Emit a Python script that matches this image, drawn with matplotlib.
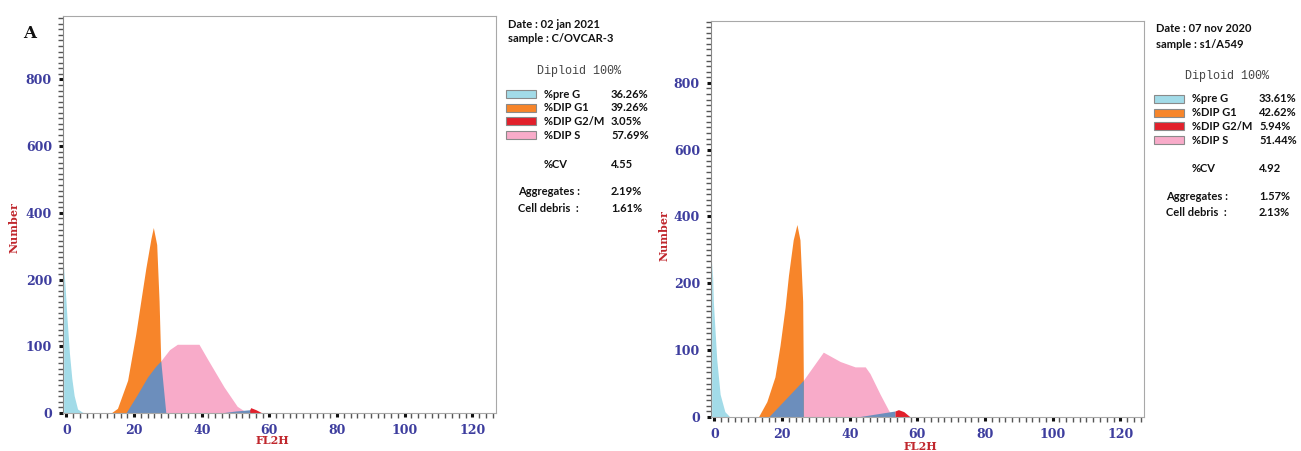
import numpy as np
import matplotlib
matplotlib.use('Agg')
from matplotlib import pyplot as plt
from matplotlib.patches import Rectangle
from matplotlib.ticker import FixedLocator

# ---- data ----
# panel A (left)
preg_x_a = [-0.8, -0.4, 0.2, 0.9, 1.6, 2.3, 3.3, 4.8, 6.3]
preg_y_a = [240, 191, 141, 90, 52, 26, 6, 1, 0]
g1_x_a = [13.2, 15.1, 18.1, 20.5, 22.0, 23.5, 25.0, 25.7, 26.7, 27.4, 27.9, 27.9]
g1_y_a = [0, 7, 49, 118, 168, 235, 323, 356, 305, 168, 78, 0]
sg1_x_a = [17.6, 21.0, 24.0, 26.4, 27.9, 29.4]
sg1_y_a = [0, 28, 54, 70, 78, 0]
s_x_a = [27.9, 30.5, 32.8, 39.2, 41.7, 46.6, 50.5, 53.5]
s_y_a = [78, 95, 103, 103, 81, 39, 10, 0]
sg2_x_a = [45.5, 50.0, 54.5]
sg2_y_a = [0, 3, 5]
g2_x_a = [54.2, 54.5, 56.0, 57.9]
g2_y_a = [5, 8, 5, 0]

# panel B (right)
preg_x_b = [-0.8, -0.5, -0.3, 0.7, 1.7, 3.1, 4.6]
preg_y_b = [264, 215, 172, 86, 34, 8, 0]
g1_x_b = [13.0, 15.5, 17.9, 19.4, 20.9, 21.9, 23.3, 24.4, 25.3, 26.1, 26.3, 26.3]
g1_y_b = [0, 23, 60, 107, 164, 224, 330, 376, 330, 173, 55, 0]
sg1_x_b = [16.0, 26.3, 26.3]
sg1_y_b = [0, 55, 0]
s_x_b = [26.3, 32.2, 37.2, 41.6, 44.6, 46.0, 49.0, 51.5, 52.8]
s_y_b = [55, 97, 83, 75, 75, 65, 34, 10, 0]
sg2_x_b = [42.1, 53.4]
sg2_y_b = [0, 9]
g2_x_b = [53.4, 54.4, 56.0, 57.9]
g2_y_b = [9, 11, 8, 0]

# side texts
legend_names = ['%pre G', '%DIP G1', '%DIP G2/M', '%DIP S']
values_a = ['36.26%', '39.26%', '3.05%', '57.69%']
values_b = ['33.61%', '42.62%', '5.94%', '51.44%']
cv_a, cv_b = '4.55', '4.92'
aggr_a, aggr_b = '2.19%', '1.57%'
debris_a, debris_b = '1.61%', '2.13%'
date_a, date_b = 'Date : 02 jan 2021', 'Date : 07 nov 2020'
sample_a, sample_b = 'sample : C/OVCAR-3', 'sample : s1/A549'

y_ticks = [0, 100, 200, 400, 600, 800]
x_ticks = [0, 20, 40, 60, 80, 100, 120]

C_PREG = '#a2dbe8'
C_G1 = '#f7852a'
C_G2 = '#e2202b'
C_S = '#f8abc9'
C_SG = '#6c8ebc'
TICK_C = '#3d3d9e'
RED_LAB = '#c0272d'

W, H = 1301, 451

# y axis in the original is stretched: 0,100,200,400,600,800 are ~equally spaced
knot_v = [0, 100, 200, 400, 600, 800, 1000]
knot_p = [0, 1, 2, 3, 4, 5, 6]


def fwd(v):
    return np.interp(v, knot_v, knot_p)


def inv(p):
    return np.interp(p, knot_p, knot_v)


def px(x, y):
    return x / W, 1 - y / H


def draw_panel(fig, box, ytop, d):
    l, t, r, b = box
    ax = fig.add_axes([l / W, 1 - b / H, (r - l) / W, (b - t) / H])
    ax.set_yscale('function', functions=(fwd, inv))
    ax.fill_between(d['s'][0], d['s'][1], color=C_S, lw=0)
    ax.fill_between(d['g1'][0], d['g1'][1], color=C_G1, lw=0)
    ax.fill_between(d['sg1'][0], d['sg1'][1], color=C_SG, lw=0)
    ax.fill_between(d['preg'][0], d['preg'][1], color=C_PREG, lw=0)
    ax.fill_between(d['sg2'][0], d['sg2'][1], color=C_SG, lw=0)
    ax.fill_between(d['g2'][0], d['g2'][1], color=C_G2, lw=0)
    ax.set_xlim(-1, 127)
    ax.set_ylim(0, ytop)

    ax.yaxis.set_major_locator(FixedLocator(y_ticks))
    ax.yaxis.set_minor_locator(FixedLocator(list(inv(np.arange(0, 6, 1 / 12)))))
    ax.xaxis.set_major_locator(FixedLocator(x_ticks))
    ax.xaxis.set_minor_locator(FixedLocator(list(np.arange(0, 127, 2.0))))
    ax.tick_params(axis='both', which='major', length=3, width=2.2, color='#111111',
                   labelcolor=TICK_C, labelsize=9, pad=5)
    ax.tick_params(axis='both', which='minor', length=3.5, width=1.0, color='#555555')
    for lab in ax.get_xticklabels() + ax.get_yticklabels():
        lab.set_fontfamily('DejaVu Serif')
        lab.set_fontweight('bold')
    for side in ['top', 'right', 'bottom']:
        ax.spines[side].set_color('#a8a8a8')
    ax.spines['left'].set_color('#888888')
    return ax


def draw_side(fig, x0, y0, date, sample, vals, cv, aggr, debris):
    kw = dict(family='Lato', fontweight='bold', fontsize=8, color='#111111', va='center')
    fig.text(*px(x0 + 2, y0), date, **kw)
    fig.text(*px(x0 + 2, y0 + 15), sample, **kw)
    fig.text(*px(x0 + 31, y0 + 47), 'Diploid 100%', family='Liberation Mono',
             fontsize=8.5, color='#444444', va='center')
    cols = [C_PREG, C_G1, C_G2, C_S]
    for i, name in enumerate(legend_names):
        y = y0 + 70 + 13.7 * i
        fx, fy = px(x0, y + 4)
        fig.patches.append(Rectangle((fx, fy), 30 / W, 8 / H, transform=fig.transFigure,
                                     facecolor=cols[i], edgecolor='#8a8a8a', lw=0.8))
        fig.text(*px(x0 + 38, y), name, **kw)
        fig.text(*px(x0 + 105, y), vals[i], **kw)
    fig.text(*px(x0 + 38, y0 + 140), '%CV', **kw)
    fig.text(*px(x0 + 105, y0 + 140), cv, **kw)
    fig.text(*px(x0 + 12, y0 + 167), 'Aggregates :', **kw)
    fig.text(*px(x0 + 105, y0 + 167), aggr, **kw)
    fig.text(*px(x0 + 12, y0 + 184), 'Cell debris  :', **kw)
    fig.text(*px(x0 + 105, y0 + 184), debris, **kw)


fig = plt.figure(figsize=(W / 100, H / 100), dpi=100)

data_a = {'preg': (preg_x_a, preg_y_a), 'g1': (g1_x_a, g1_y_a), 'sg1': (sg1_x_a, sg1_y_a),
          's': (s_x_a, s_y_a), 'sg2': (sg2_x_a, sg2_y_a), 'g2': (g2_x_a, g2_y_a)}
data_b = {'preg': (preg_x_b, preg_y_b), 'g1': (g1_x_b, g1_y_b), 'sg1': (sg1_x_b, sg1_y_b),
          's': (s_x_b, s_y_b), 'sg2': (sg2_x_b, sg2_y_b), 'g2': (g2_x_b, g2_y_b)}

draw_panel(fig, (63, 16, 496, 413), 990, data_a)
draw_panel(fig, (711, 21, 1144, 417), 985, data_b)

lab_kw = dict(family='DejaVu Serif', fontweight='bold', fontsize=8, color=RED_LAB,
              ha='center', va='center')
fig.text(*px(14, 228), 'Number', rotation=90, **lab_kw)
fig.text(*px(272, 441), 'FL2H', **lab_kw)
fig.text(*px(664, 236), 'Number', rotation=90, **lab_kw)
fig.text(*px(920, 447), 'FL2H', **lab_kw)
fig.text(*px(30, 34), 'A', family='DejaVu Serif', fontweight='bold', fontsize=12,
         color='#111111', ha='center', va='center')

draw_side(fig, 506, 24, date_a, sample_a, values_a, cv_a, aggr_a, debris_a)
draw_side(fig, 1154, 29, date_b, sample_b, values_b, cv_b, aggr_b, debris_b)

fig.savefig('out.png', dpi=100)
plt.close(fig)
